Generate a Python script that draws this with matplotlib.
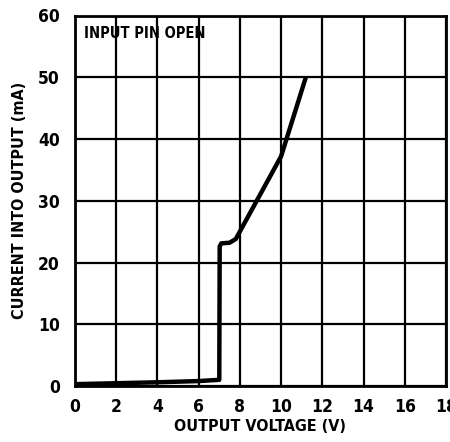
import matplotlib
matplotlib.use("Agg")
import matplotlib.pyplot as plt
from matplotlib import font_manager

fl = font_manager.fontManager.ttflist
names = {f.name for f in fl}
stretch = 'normal'
if 'Liberation Sans Narrow' in names:
    fam = ['Liberation Sans Narrow', 'DejaVu Sans']
elif any(f.name == 'DejaVu Sans' and f.stretch in ('condensed', 'semi-condensed') and f.weight in ('bold', 700) for f in fl):
    fam = ['DejaVu Sans']
    stretch = 'condensed'
else:
    fam = ['Liberation Sans', 'DejaVu Sans']

voltage = [0, 2, 4, 6, 7.0, 7.02, 7.1, 7.5, 7.8, 10.0, 11.2]
current = [0.3, 0.45, 0.6, 0.8, 1.0, 22.6, 23.1, 23.2, 23.8, 37.2, 50.0]
xticks = [0, 2, 4, 6, 8, 10, 12, 14, 16, 18]
yticks = [0, 10, 20, 30, 40, 50, 60]

fig = plt.figure(figsize=(4.5, 4.42), dpi=100)
ax = fig.add_axes([75/450, 56/442, 371/450, 370.5/442])
ax.set_xlim(0, 18)
ax.set_ylim(0, 60)
ax.set_xticks(xticks)
ax.set_yticks(yticks)
ax.grid(True, color='black', linewidth=1.6)
ax.set_axisbelow(True)
for s in ax.spines.values():
    s.set_linewidth(2.0)
ax.tick_params(axis='x', length=0, pad=9)
ax.tick_params(axis='y', length=0, pad=11)
for lab in ax.get_xticklabels() + ax.get_yticklabels():
    lab.set_family(fam)
    lab.set_fontweight('bold')
    lab.set_fontstretch(stretch)
    lab.set_fontsize(12.5)
ax.plot(voltage, current, color='black', linewidth=3.2, solid_joinstyle='round', solid_capstyle='butt')
ax.text(0.024, 0.94, 'INPUT PIN OPEN', transform=ax.transAxes, family=fam, fontstretch=stretch,
        fontweight='bold', fontsize=10.5, va='baseline', ha='left')
ax.set_xlabel('OUTPUT VOLTAGE (V)', family=fam, fontstretch=stretch, fontweight='bold', fontsize=11.5, labelpad=2)
ax.set_ylabel('CURRENT INTO OUTPUT (mA)', family=fam, fontstretch=stretch, fontweight='bold', fontsize=11.5, labelpad=8)
fig.savefig('out.png', dpi=100)
